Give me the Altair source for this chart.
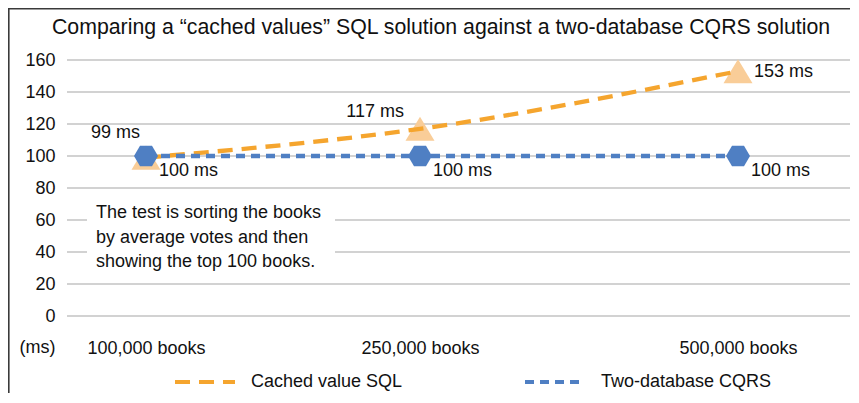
import json
import altair as alt
import pandas as pd

# ---------------- data ----------------
categories = ["100,000 books", "250,000 books", "500,000 books"]
cached_sql = [99, 117, 153]
cqrs = [100, 100, 100]
series_names = ["Cached value SQL", "Two-database CQRS"]
y_ticks = [0, 20, 40, 60, 80, 100, 120, 140, 160]
note_lines = [
    "The test is sorting the books",
    "by average votes and then",
    "showing the top 100 books.",
]
title_text = "Comparing a \u201ccached values\u201d SQL solution against a two-database CQRS solution"

# ---------------- style ----------------
FONT = "Liberation Sans"
ORANGE = "#F5A52E"
ORANGE_LIGHT = "#F9CD98"
BLUE = "#4F7FC3"
GRID = "#C3C3C3"
TEXT = "#111111"
W, H = 783, 256
X_RANGE = [79, 353, 671]
TRI = "M0,-0.83L1,0.83L-1,0.83Z"
HEX = "M-1,0L-0.5,-0.85L0.5,-0.85L1,0L0.5,0.85L-0.5,0.85Z"
# (dx, dy, align) for the orange labels
ORANGE_LABEL_STYLE = [(-6, -25, "right"), (-16, -17, "right"), (16, 1, "left")]

rows = []
for i, c in enumerate(categories):
    rows.append(dict(idx=i, cat=c, series=series_names[0], value=cached_sql[i],
                     label=f"{cached_sql[i]} ms"))
    rows.append(dict(idx=i, cat=c, series=series_names[1], value=cqrs[i],
                     label=f"{cqrs[i]} ms"))
df = pd.DataFrame(rows)
ticks_df = pd.DataFrame({"value": y_ticks})

label_expr = json.dumps(categories) + "[datum.value]"

x = alt.X(
    "idx:Q",
    scale=alt.Scale(domain=[0, 1, 2], range=X_RANGE, zero=False, nice=False),
    axis=alt.Axis(values=[0, 1, 2], labelExpr=label_expr, grid=False, domain=False,
                  ticks=False, labelPadding=23, labelFontSize=18, labelFont=FONT,
                  labelColor=TEXT, title=None, labelAlign="center"),
)
yscale = alt.Scale(domain=[0, 160], nice=False, zero=True)
y_axis = alt.Axis(values=y_ticks, grid=False,
                  domain=False, ticks=False, labelPadding=12, labelFontSize=18,
                  labelFont=FONT, labelColor=TEXT,
                  title="(ms)", titleAngle=0, titleX=-12, titleY=287,
                  titleAlign="right", titleBaseline="middle", titleFontWeight="normal",
                  titleFontSize=18, titleFont=FONT, titleColor=TEXT)
y = alt.Y("value:Q", scale=yscale, axis=y_axis)

# horizontal gridlines drawn from the tick list through the y scale
grid = alt.Chart(ticks_df).mark_rule(color=GRID, strokeWidth=1.3).encode(
    y=alt.Y("value:Q", scale=yscale, axis=y_axis),
    x=alt.value(0), x2=alt.value(W),
)

base = alt.Chart(df).encode(x=x, y=y)

legend = alt.Legend(orient="none", legendX=106, legendY=290, direction="horizontal",
                    title=None, symbolType="stroke", symbolSize=3600, symbolStrokeWidth=4,
                    labelFontSize=18, labelFont=FONT, labelColor=TEXT, labelOffset=14,
                    columnPadding=114, padding=0, labelLimit=400)

lines = base.mark_line(strokeWidth=4.3, interpolate="monotone").encode(
    color=alt.Color("series:N", scale=alt.Scale(domain=series_names, range=[ORANGE, BLUE]),
                    legend=legend),
    strokeDash=alt.StrokeDash("series:N",
                              scale=alt.Scale(domain=series_names, range=[[15, 9], [9, 6]]),
                              legend=legend),
)

tri = base.transform_filter(alt.datum.series == series_names[0]).mark_point(
    shape=TRI, size=841, filled=True, color=ORANGE_LIGHT, opacity=1, strokeWidth=0)

hexes = base.transform_filter(alt.datum.series == series_names[1]).mark_point(
    shape=HEX, size=576, filled=True, color=BLUE, opacity=1, strokeWidth=0)

orange_labels = []
for i, (dx, dy, al) in enumerate(ORANGE_LABEL_STYLE):
    orange_labels.append(
        base.transform_filter((alt.datum.series == series_names[0]) & (alt.datum.idx == i))
        .mark_text(dx=dx, dy=dy, align=al, baseline="middle", fontSize=18, font=FONT,
                   color=TEXT)
        .encode(text="label:N")
    )

blue_labels = base.transform_filter(alt.datum.series == series_names[1]).mark_text(
    dx=13, dy=15, align="left", baseline="middle", fontSize=18, font=FONT, color=TEXT
).encode(text="label:N")

one = pd.DataFrame({"k": [0]})
note_box = alt.Chart(one).mark_rect(color="white").encode(
    x=alt.value(20), x2=alt.value(268), y=alt.value(135), y2=alt.value(216))
note = alt.Chart(one).mark_text(align="left", baseline="middle", fontSize=18, font=FONT,
                                color=TEXT, lineHeight=24.5, text=note_lines).encode(
    x=alt.value(29), y=alt.value(153))

title = alt.Chart(one).mark_text(align="center", baseline="middle", fontSize=21.3, font=FONT,
                                 color=TEXT, text=title_text).encode(
    x=alt.value(374), y=alt.value(-32))

frame_left = alt.Chart(one).mark_rule(color="#3A3A3A", strokeWidth=1.6).encode(
    x=alt.value(-58.2), y=alt.value(-51.2), y2=alt.value(335))
frame_top = alt.Chart(one).mark_rule(color="#3A3A3A", strokeWidth=1.6).encode(
    x=alt.value(-59), x2=alt.value(W), y=alt.value(-51.2))

chart = alt.layer(
    grid, note_box, tri, lines, hexes, blue_labels, *orange_labels, note, title,
    frame_left, frame_top
).properties(
    width=W, height=H,
    autosize=alt.AutoSizeParams(type="none"),
    padding={"left": 59, "top": 52, "right": 0, "bottom": 77},
    background="white",
).configure_view(stroke=None)

chart.save("out.html", embed_options={"renderer": "svg", "actions": False})
